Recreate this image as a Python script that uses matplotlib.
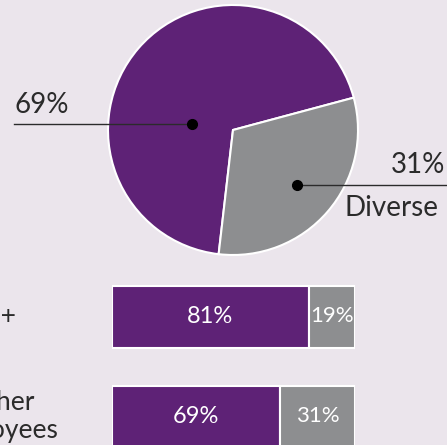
import matplotlib.pyplot as plt

plt.rcParams['font.family'] = ['Lato', 'DejaVu Sans']

# data
pie_labels = ['69%', '31%']
pie_values = [69, 31]
bar_groups = ['VP+', 'All other\nemployees']
share_main = [81, 69]
share_diverse = [19, 31]

purple = '#5e2276'
grey = '#8d8e90'
bg = '#ebe5ec'
ink = '#2b2b2b'

fig = plt.figure(figsize=(4.47, 4.45), dpi=100)
fig.patch.set_facecolor(bg)

# pie
W, H = 447.0, 445.0
cx, cy, r = 233, 130, 125
axp = fig.add_axes([(cx - r) / W, (H - cy - r) / H, 2 * r / W, 2 * r / H])
axp.set_facecolor('none')
axp.pie(pie_values, colors=[purple, grey], startangle=15, counterclock=True,
        wedgeprops=dict(edgecolor='white', linewidth=1.5))
axp.set_xlim(-1, 1)
axp.set_ylim(-1, 1)
axp.set_aspect('equal')
axp.axis('off')

# leader lines + dots
axp.plot([-1.75, -0.33], [0.05, 0.05], color=ink, lw=1, clip_on=False)
axp.plot(-0.33, 0.05, 'o', color='black', ms=7, clip_on=False)
axp.plot([0.51, 1.8], [-0.44, -0.44], color=ink, lw=1, clip_on=False)
axp.plot(0.51, -0.44, 'o', color='black', ms=7, clip_on=False)
axp.text(-1.75, 0.2, pie_labels[0], ha='left', va='center', fontsize=20, color=ink)
axp.text(1.7, -0.28, pie_labels[1], ha='right', va='center', fontsize=20, color=ink)
axp.text(0.89, -0.62, 'Diverse', ha='left', va='center', fontsize=20, color=ink)

# bars
axb = fig.add_axes([112 / W, (H - 466.5) / H, 243 / W, 200 / H])
axb.set_facecolor('none')
ypos = [0, 1]
axb.barh(ypos, share_main, height=0.62, color=purple, edgecolor='white', linewidth=1.5)
axb.barh(ypos, share_diverse, left=share_main, height=0.62, color=grey,
         edgecolor='white', linewidth=1.5)
axb.set_xlim(0, 100)
axb.set_ylim(1.5, -0.5)
axb.axis('off')

for y, a, b in zip(ypos, share_main, share_diverse):
    axb.text(a / 2, y, f'{a}%', ha='center', va='center', color='white', fontsize=17)
    axb.text(a + b / 2, y, f'{b}%', ha='center', va='center', color='white', fontsize=16)

axb.text(-39, 0, bar_groups[0], ha='right', va='center', fontsize=19,
         color=ink, clip_on=False)
axb.text(-22, 1, bar_groups[1], ha='right', va='center', fontsize=19,
         color=ink, multialignment='left', linespacing=1.15, clip_on=False)

fig.savefig('out.png', dpi=100, facecolor=bg)
